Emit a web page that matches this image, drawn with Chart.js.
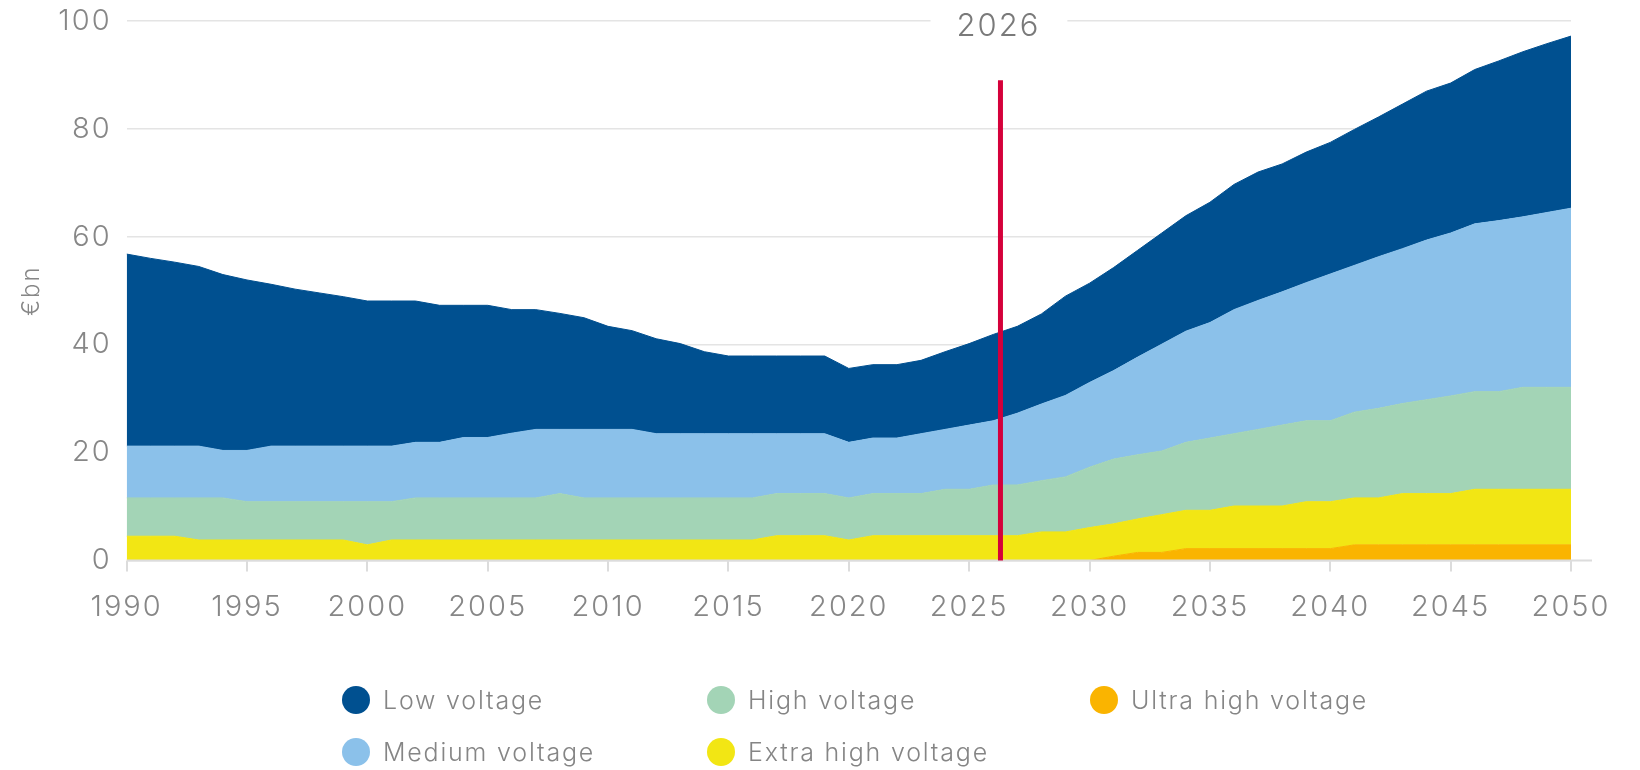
<!DOCTYPE html>
<html>
<head>
<meta charset="utf-8">
<script src="https://cdn.jsdelivr.net/npm/chart.js@4"></script>
<style>
  html, body { margin: 0; padding: 0; background: #fff; }
  #wrap { position: relative; width: 1640px; height: 770px; }
  #legend {
    position: absolute; left: 342px; top: 674px;
    display: grid; grid-template-columns: 365px 383px auto; grid-template-rows: 52px 52px;
    grid-auto-flow: column; font-family: Inter, sans-serif; font-weight: 300;
    font-size: 25px; letter-spacing: 1.8px; color: #858585;
  }
  .item { display: flex; align-items: center; }
  .dot { width: 28px; height: 28px; border-radius: 50%; margin-right: 13px; }
</style>
</head>
<body>
<div id="wrap">
  <canvas id="gridChart" width="1640" height="770"></canvas>
  <div id="legend"></div>
</div>
<script>
// years 1990-2050
const years = [
  1990, 1991, 1992, 1993, 1994, 1995, 1996, 1997, 1998, 1999,
  2000, 2001, 2002, 2003, 2004, 2005, 2006, 2007, 2008, 2009,
  2010, 2011, 2012, 2013, 2014, 2015, 2016, 2017, 2018, 2019,
  2020, 2021, 2022, 2023, 2024, 2025, 2026, 2027, 2028, 2029,
  2030, 2031, 2032, 2033, 2034, 2035, 2036, 2037, 2038, 2039,
  2040, 2041, 2042, 2043, 2044, 2045, 2046, 2047, 2048, 2049,
  2050
];

// investment per voltage level, €bn (stacked, bottom first)
const ultraHigh = [
  0, 0, 0, 0, 0, 0, 0, 0, 0, 0,
  0, 0, 0, 0, 0, 0, 0, 0, 0, 0,
  0, 0, 0, 0, 0, 0, 0, 0, 0, 0,
  0, 0, 0, 0, 0, 0, 0, 0, 0, 0,
  0, 0.8, 1.5, 1.5, 2.2, 2.2, 2.2, 2.2, 2.2, 2.2,
  2.2, 2.9, 2.9, 2.9, 2.9, 2.9, 2.9, 2.9, 2.9, 2.9,
  2.9
];
const extraHigh = [
  4.5, 4.5, 4.5, 3.8, 3.8, 3.8, 3.8, 3.8, 3.8, 3.8,
  2.9, 3.8, 3.8, 3.8, 3.8, 3.8, 3.8, 3.8, 3.8, 3.8,
  3.8, 3.8, 3.8, 3.8, 3.8, 3.8, 3.8, 4.6, 4.6, 4.6,
  3.8, 4.6, 4.6, 4.6, 4.6, 4.6, 4.6, 4.6, 5.3, 5.3,
  6.1, 6.0, 6.2, 7.0, 7.1, 7.1, 7.9, 7.9, 7.9, 8.7,
  8.7, 8.7, 8.7, 9.5, 9.5, 9.5, 10.3, 10.3, 10.3, 10.3,
  10.3
];
const high = [
  7.1, 7.1, 7.1, 7.8, 7.8, 7.1, 7.1, 7.1, 7.1, 7.1,
  8.0, 7.1, 7.8, 7.8, 7.8, 7.8, 7.8, 7.8, 8.6, 7.8,
  7.8, 7.8, 7.8, 7.8, 7.8, 7.8, 7.8, 7.8, 7.8, 7.8,
  7.8, 7.8, 7.8, 7.8, 8.6, 8.6, 9.4, 9.4, 9.5, 10.2,
  11.2, 12.0, 11.9, 11.8, 12.6, 13.4, 13.4, 14.2, 15.0, 15.0,
  15.0, 15.9, 16.6, 16.7, 17.4, 18.1, 18.1, 18.1, 18.9, 18.9,
  18.9
];
const medium = [
  9.6, 9.6, 9.6, 9.6, 8.8, 9.5, 10.3, 10.3, 10.3, 10.3,
  10.3, 10.3, 10.3, 10.3, 11.2, 11.2, 12.0, 12.7, 11.9, 12.7,
  12.7, 12.7, 11.9, 11.9, 11.9, 11.9, 11.9, 11.1, 11.1, 11.1,
  10.3, 10.3, 10.3, 11.1, 11.1, 11.9, 11.9, 13.3, 14.2, 15.1,
  15.7, 16.4, 18.1, 19.8, 20.6, 21.4, 23.0, 23.9, 24.7, 25.6,
  27.2, 27.2, 28.1, 28.7, 29.6, 30.2, 31.1, 31.7, 31.6, 32.4,
  33.2
];
const low = [
  35.6, 34.8, 34.1, 33.3, 32.6, 31.6, 30.0, 29.1, 28.4, 27.7,
  26.9, 26.9, 26.2, 25.4, 24.5, 24.5, 22.9, 22.2, 21.5, 20.7,
  19.1, 18.3, 17.6, 16.7, 15.2, 14.4, 14.4, 14.4, 14.4, 14.4,
  13.7, 13.6, 13.6, 13.6, 14.4, 15.1, 16.0, 16.1, 16.7, 18.4,
  18.4, 19.1, 19.8, 20.6, 21.4, 22.3, 23.2, 23.8, 23.7, 24.2,
  24.4, 25.2, 25.9, 26.8, 27.6, 27.8, 28.6, 29.6, 30.6, 31.3,
  31.9
];

const yearTicks = [1990, 1995, 2000, 2005, 2010, 2015, 2020, 2025, 2030, 2035, 2040, 2045, 2050];
const valueTicks = [0, 20, 40, 60, 80, 100];

// marker for the current year
const markerYear = 2026.3;
const markerTop = 89;
const markerLabel = "2026";

const series = [
  { name: "Ultra high voltage", data: ultraHigh, color: "#fab400" },
  { name: "Extra high voltage", data: extraHigh, color: "#f2e614" },
  { name: "High voltage", data: high, color: "#a3d4b6" },
  { name: "Medium voltage", data: medium, color: "#8bc1ea" },
  { name: "Low voltage", data: low, color: "#005090" }
];
const legendOrder = ["Low voltage", "Medium voltage", "High voltage", "Extra high voltage", "Ultra high voltage"];

const FONT = "Inter, sans-serif";
const GREY = "#878787";

// the chart font is wider than Inter, so space the letters a little
const spacingPlugin = {
  id: "spacing",
  beforeInit(chart) { chart.ctx.letterSpacing = "2px"; },
  beforeDraw(chart) { chart.ctx.letterSpacing = "2px"; }
};

// x axis line, red marker and its label
const markerPlugin = {
  id: "marker",
  afterDatasetsDraw(chart) {
    const { ctx, chartArea, scales: { x, y } } = chart;
    const base = y.getPixelForValue(0);
    ctx.save();
    ctx.strokeStyle = "#dcdcdc";
    ctx.lineWidth = 2;
    ctx.beginPath();
    ctx.moveTo(chartArea.left, base);
    ctx.lineTo(chartArea.right + 21, base);
    ctx.stroke();

    const mx = x.getPixelForValue(markerYear);
    ctx.strokeStyle = "#d5003a";
    ctx.lineWidth = 5;
    ctx.beginPath();
    ctx.moveTo(mx, y.getPixelForValue(markerTop));
    ctx.lineTo(mx, base);
    ctx.stroke();

    const ty = y.getPixelForValue(100);
    ctx.font = "300 31px " + FONT;
    const w = ctx.measureText(markerLabel).width;
    const cx = mx - 2;
    ctx.fillStyle = "#fff";
    ctx.fillRect(cx - w / 2 - 26, ty - 4, w + 53, 8);
    ctx.fillStyle = "#7a7a7a";
    ctx.textAlign = "center";
    ctx.textBaseline = "middle";
    ctx.fillText(markerLabel, cx, ty + 6);
    ctx.restore();
  }
};

function drawChart() {
  const ctx = document.getElementById("gridChart").getContext("2d");
  new Chart(ctx, {
    type: "line",
    data: {
      datasets: series.map((s, i) => ({
        label: s.name,
        data: years.map((yr, k) => ({ x: yr, y: s.data[k] })),
        backgroundColor: s.color,
        borderColor: s.color,
        borderWidth: 1,
        fill: i === 0 ? "origin" : "-1",
        pointRadius: 0,
        tension: 0
      }))
    },
    options: {
      responsive: false,
      animation: false,
      layout: { padding: { top: 21, right: 69, left: 0, bottom: 0 } },
      plugins: { legend: { display: false }, tooltip: { enabled: false } },
      scales: {
        x: {
          type: "linear",
          min: 1990,
          max: 2050,
          afterBuildTicks: s => { s.ticks = yearTicks.map(v => ({ value: v })); },
          afterFit: s => { s.height = 209.5; },
          grid: { drawOnChartArea: false, drawTicks: true, tickLength: 11, color: "#dcdcdc", lineWidth: 2 },
          border: { display: false },
          ticks: {
            padding: 18,
            color: GREY,
            font: { family: FONT, size: 29, weight: "300" },
            maxRotation: 0,
            callback: v => String(v)
          }
        },
        y: {
          stacked: true,
          min: 0,
          max: 100,
          afterBuildTicks: s => { s.ticks = valueTicks.map(v => ({ value: v })); },
          afterFit: s => { s.width = 126.6; s.paddingTop = 0; s.paddingBottom = 0; },
          grid: { color: "#e4e4e4", lineWidth: 1.5, drawTicks: false },
          border: { display: false },
          title: {
            display: true,
            text: "€bn",
            color: GREY,
            font: { family: FONT, size: 24, weight: "300" },
            padding: { top: 17, bottom: 0 }
          },
          ticks: {
            padding: 15,
            color: GREY,
            font: { family: FONT, size: 29, weight: "300" }
          }
        }
      }
    },
    plugins: [spacingPlugin, markerPlugin]
  });
}

// legend in two rows, filled column by column
function renderLegend() {
  const box = document.getElementById("legend");
  legendOrder.forEach(name => {
    const s = series.find(d => d.name === name);
    const item = document.createElement("div");
    item.className = "item";
    const dot = document.createElement("span");
    dot.className = "dot";
    dot.style.background = s.color;
    const label = document.createElement("span");
    label.textContent = s.name;
    item.appendChild(dot);
    item.appendChild(label);
    box.appendChild(item);
  });
}

renderLegend();
drawChart();
</script>
</body>
</html>
